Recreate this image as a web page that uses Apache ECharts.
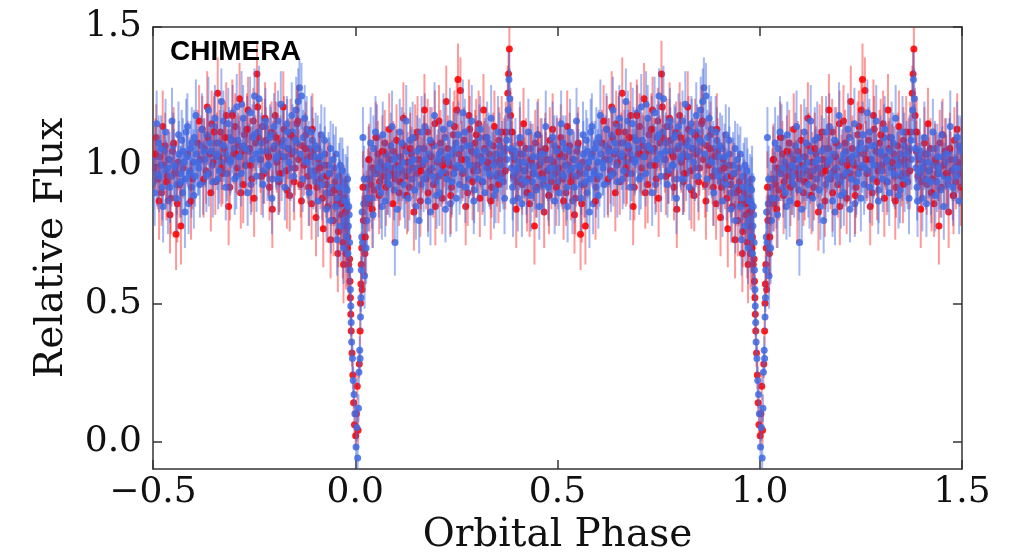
<!DOCTYPE html>
<html>
<head>
<meta charset="utf-8">
<script src="https://cdn.jsdelivr.net/npm/echarts@6/dist/echarts.min.js"></script>
<style>
html,body{margin:0;padding:0;background:#fff;}
#chart{width:1022px;height:560px;}
</style>
</head>
<body>
<div id="chart"></div>
<script>
// Tick labels
var xTicks = [-0.5, 0.0, 0.5, 1.0, 1.5];
var yTicks = [0.0, 0.5, 1.0, 1.5];
var xTitle = 'Orbital Phase';
var yTitle = 'Relative Flux';
var panelLabel = 'CHIMERA';

// One orbital cycle of measurements: [phase, relative flux, error]
var redPts = [
[0.020,0.80,0.10],[0.024,0.68,0.12],[0.028,0.88,0.10],[0.031,0.95,0.11],[0.035,0.86,0.10],[0.039,0.93,0.12],
[0.043,0.99,0.10],[0.047,0.91,0.11],[0.052,0.97,0.10],[0.056,1.04,0.12],[0.060,0.94,0.10],[0.064,1.00,0.11],
[0.069,0.96,0.10],[0.073,1.08,0.12],[0.077,0.99,0.10],[0.081,0.93,0.11],[0.086,1.02,0.10],[0.090,0.97,0.12],
[0.094,1.05,0.11],[0.099,0.95,0.10],[0.103,1.00,0.11],[0.108,0.90,0.12],[0.112,1.03,0.10],[0.116,0.98,0.11],
[0.121,1.07,0.12],[0.125,0.96,0.10],[0.130,1.01,0.11],[0.134,0.92,0.12],[0.139,1.04,0.10],[0.143,0.99,0.11],
[0.148,1.10,0.12],[0.152,0.97,0.10],[0.157,1.02,0.11],[0.161,0.87,0.13],[0.166,1.00,0.10],[0.170,1.06,0.12],
[0.175,0.95,0.11],[0.179,1.12,0.12],[0.184,0.98,0.10],[0.188,1.03,0.11],[0.193,0.93,0.12],[0.197,1.15,0.12],
[0.202,1.01,0.10],[0.206,0.96,0.11],[0.211,1.08,0.12],[0.215,0.88,0.13],[0.220,1.02,0.10],[0.224,0.97,0.11],
[0.229,1.06,0.12],[0.233,1.00,0.10],[0.238,0.92,0.11],[0.242,1.11,0.12],[0.247,0.99,0.10],[0.251,1.20,0.12],
[0.256,1.04,0.11],[0.260,1.27,0.12],[0.265,0.97,0.10],[0.269,1.09,0.12],[0.274,1.02,0.11],[0.278,0.90,0.12],
[0.283,1.13,0.12],[0.287,1.05,0.10],[0.292,0.98,0.11],[0.296,1.08,0.12],[0.301,1.00,0.10],[0.305,1.15,0.12],
[0.310,1.03,0.11],[0.314,0.94,0.12],[0.319,1.06,0.10],[0.323,1.10,0.11],[0.328,0.99,0.12],[0.332,1.04,0.10],
[0.337,0.92,0.11],[0.341,1.07,0.12],[0.346,1.01,0.10],[0.350,0.96,0.11],[0.355,1.09,0.12],[0.359,1.02,0.10],
[0.364,0.97,0.11],[0.368,1.05,0.12],[0.372,1.12,0.11],[0.377,1.26,0.10],[0.379,1.33,0.09],[0.381,1.42,0.10],
[0.384,1.18,0.10],[0.387,1.05,0.11],[0.391,0.96,0.12],[0.395,1.02,0.10],[0.400,0.94,0.11],[0.404,0.99,0.12],
[0.409,1.04,0.10],[0.413,0.93,0.11],[0.418,0.98,0.12],[0.422,1.06,0.11],[0.427,0.95,0.10],[0.431,0.86,0.12],
[0.436,1.01,0.11],[0.440,0.97,0.10],[0.445,1.08,0.12],[0.449,0.92,0.11],[0.454,1.00,0.10],[0.458,1.05,0.12],
[0.463,0.96,0.11],[0.467,0.83,0.13],[0.472,1.02,0.10],[0.476,0.98,0.11],[0.481,1.09,0.12],[0.485,0.94,0.10],
[0.490,1.01,0.11],[0.494,0.97,0.12],[0.499,1.06,0.11],[0.503,0.99,0.10],[0.508,1.10,0.12],[0.512,0.95,0.11],
[0.517,1.03,0.10],[0.521,0.90,0.12],[0.526,1.00,0.11],[0.530,1.07,0.12],[0.535,0.96,0.10],[0.539,1.02,0.11],
[0.544,0.88,0.13],[0.548,1.05,0.12],[0.553,0.97,0.11],[0.557,0.75,0.13],[0.562,1.01,0.10],[0.566,0.93,0.12],
[0.575,0.99,0.11],[0.586,1.04,0.12],[0.598,0.95,0.11],[0.610,1.08,0.12],[0.617,1.02,0.10],[0.622,1.13,0.12],
[0.627,1.06,0.11],[0.631,0.98,0.12],[0.636,1.10,0.10],[0.640,1.04,0.11],[0.645,1.15,0.12],[0.649,1.01,0.10],
[0.654,0.94,0.12],[0.658,1.08,0.11],[0.663,1.03,0.10],[0.667,1.12,0.12],[0.672,0.97,0.11],[0.676,1.06,0.10],
[0.681,1.18,0.12],[0.685,1.02,0.11],[0.690,0.92,0.12],[0.694,1.09,0.10],[0.699,1.04,0.11],[0.703,1.14,0.12],
[0.708,0.99,0.10],[0.712,1.07,0.11],[0.717,0.90,0.13],[0.721,1.05,0.12],[0.726,1.11,0.11],[0.730,1.00,0.10],
[0.735,1.20,0.12],[0.739,1.06,0.11],[0.744,0.95,0.12],[0.748,1.16,0.12],[0.753,1.08,0.10],[0.757,1.33,0.12],
[0.761,1.10,0.11],[0.766,1.02,0.12],[0.770,1.14,0.10],[0.775,0.97,0.11],[0.779,1.09,0.12],[0.784,1.04,0.10],
[0.788,0.92,0.12],[0.793,1.12,0.11],[0.797,1.06,0.10],[0.802,1.18,0.12],[0.806,1.01,0.11],[0.811,0.94,0.12],
[0.815,1.08,0.10],[0.820,1.03,0.11],[0.824,1.13,0.12],[0.829,0.98,0.10],[0.833,1.06,0.11],[0.838,0.89,0.13],
[0.842,1.04,0.12],[0.847,1.10,0.11],[0.851,0.99,0.10],[0.856,1.15,0.12],[0.860,1.02,0.11],[0.865,0.93,0.12],
[0.869,1.07,0.10],[0.874,1.00,0.11],[0.878,1.11,0.12],[0.883,0.96,0.10],[0.887,1.03,0.11],[0.892,0.86,0.13],
[0.896,1.05,0.12],[0.901,0.98,0.11],[0.905,0.92,0.12],[0.910,1.02,0.10],[0.914,0.95,0.11],[0.919,0.88,0.12],
[0.923,1.00,0.11],[0.928,0.93,0.12],[0.932,0.85,0.13],[0.937,0.97,0.11],[0.941,0.90,0.12],[0.946,0.80,0.13],
[0.950,0.94,0.11],[0.954,0.86,0.12],[0.958,0.76,0.13],[0.962,0.90,0.12],[0.966,0.82,0.12],[0.969,0.72,0.13],
[0.972,0.88,0.12],[0.975,0.78,0.13],[0.977,0.68,0.13],[0.980,0.84,0.12],[0.982,0.74,0.13],[0.984,0.64,0.13],
[0.986,0.66,0.06],[0.987,0.58,0.05],[0.988,0.52,0.05],[0.989,0.46,0.05],[0.990,0.40,0.05],[0.992,0.32,0.05],
[0.994,0.24,0.05],[0.996,0.14,0.05],[0.998,0.06,0.05],[0.001,0.02,0.05],[0.003,0.10,0.05],[0.005,0.20,0.05],
[0.007,0.04,0.05],[0.010,0.28,0.05],[0.012,0.40,0.05],[0.013,0.50,0.05],[0.014,0.57,0.05],[0.015,0.64,0.06],
[0.016,0.70,0.06],[0.017,0.55,0.06]
];

var redPts2 = [
[0.019,0.92,0.13],[0.025,0.74,0.14],[0.034,1.02,0.13],[0.042,0.84,0.14],[0.051,1.10,0.13],[0.059,0.89,0.14],
[0.067,1.05,0.13],[0.076,0.92,0.14],[0.084,1.13,0.13],[0.093,0.86,0.14],[0.102,1.09,0.13],[0.111,0.94,0.14],
[0.119,1.17,0.13],[0.128,0.89,0.14],[0.136,1.06,0.13],[0.145,0.83,0.14],[0.154,1.12,0.13],[0.162,0.98,0.14],
[0.171,1.20,0.13],[0.180,0.90,0.14],[0.189,1.08,0.13],[0.198,0.85,0.14],[0.207,1.16,0.13],[0.216,1.00,0.14],
[0.225,1.23,0.13],[0.236,0.89,0.14],[0.245,1.14,0.13],[0.254,1.31,0.13],[0.263,1.02,0.14],[0.273,0.85,0.14],
[0.281,1.18,0.13],[0.290,0.94,0.14],[0.299,1.11,0.13],[0.308,0.88,0.14],[0.317,1.20,0.13],[0.327,1.01,0.14],
[0.335,0.87,0.14],[0.344,1.14,0.13],[0.354,0.93,0.14],[0.362,1.12,0.13],[0.371,0.98,0.14],[0.388,1.12,0.13],
[0.398,0.84,0.14],[0.407,1.08,0.13],[0.416,1.15,0.13],[0.425,0.90,0.14],[0.434,1.02,0.13],[0.443,0.78,0.14],
[0.452,1.11,0.13],[0.461,0.97,0.14],[0.470,1.06,0.13],[0.479,0.89,0.14],[0.488,1.13,0.13],[0.497,0.92,0.14],
[0.506,1.04,0.13],[0.515,0.87,0.14],[0.524,1.14,0.13],[0.533,0.94,0.14],[0.542,0.82,0.14],[0.551,1.08,0.13],
[0.560,0.86,0.14],[0.569,0.78,0.14],[0.594,0.87,0.14],[0.614,1.16,0.13],[0.625,0.95,0.14],[0.634,1.21,0.13],
[0.643,0.90,0.14],[0.651,1.12,0.13],[0.660,1.26,0.13],[0.669,0.99,0.14],[0.678,1.10,0.13],[0.687,0.85,0.14],
[0.696,1.18,0.13],[0.705,1.04,0.14],[0.714,1.24,0.13],[0.723,0.93,0.14],[0.732,1.13,0.13],[0.741,1.00,0.14],
[0.750,0.88,0.14],[0.759,1.21,0.13],[0.768,0.96,0.14],[0.777,1.17,0.13],[0.786,1.03,0.14],[0.795,0.84,0.14],
[0.804,1.10,0.13],[0.813,0.97,0.14],[0.822,1.21,0.13],[0.831,0.91,0.14],[0.840,1.11,0.13],[0.849,0.94,0.14],
[0.858,1.16,0.13],[0.867,0.87,0.14],[0.876,1.06,0.13],[0.885,0.92,0.14],[0.894,1.13,0.13],[0.903,0.81,0.14],
[0.912,0.99,0.13],[0.921,0.77,0.14],[0.930,0.96,0.13],[0.939,0.73,0.14],[0.948,0.91,0.13],[0.957,0.68,0.14],
[0.964,0.86,0.13],[0.971,0.64,0.14],[0.976,0.83,0.13],[0.981,0.70,0.14]
];

var bluePts = [
[0.018,0.72,0.10],[0.019,1.10,0.11],[0.021,0.86,0.11],[0.023,0.60,0.12],[0.026,0.92,0.10],[0.029,0.80,0.11],
[0.033,1.02,0.12],[0.037,0.95,0.10],[0.041,0.88,0.11],[0.045,1.06,0.12],[0.049,0.97,0.10],[0.054,1.10,0.12],
[0.058,0.92,0.11],[0.062,1.01,0.10],[0.066,0.85,0.12],[0.071,0.98,0.11],[0.075,1.04,0.10],[0.079,0.94,0.12],
[0.083,0.96,0.11],[0.088,1.07,0.12],[0.092,0.99,0.10],[0.096,0.91,0.11],[0.098,0.72,0.12],[0.101,1.03,0.10],
[0.105,0.97,0.11],[0.110,1.12,0.12],[0.114,0.94,0.10],[0.118,1.01,0.11],[0.123,0.89,0.12],[0.127,1.05,0.10],
[0.132,0.98,0.11],[0.136,1.09,0.12],[0.141,0.95,0.10],[0.145,1.02,0.11],[0.150,0.85,0.12],[0.154,0.99,0.10],
[0.159,1.06,0.11],[0.163,0.93,0.12],[0.168,1.01,0.10],[0.172,1.14,0.12],[0.177,0.97,0.11],[0.181,1.04,0.10],
[0.186,0.83,0.12],[0.190,0.99,0.11],[0.195,1.07,0.12],[0.199,0.94,0.10],[0.204,1.02,0.11],[0.208,0.90,0.12],
[0.213,1.05,0.10],[0.217,0.98,0.11],[0.222,1.10,0.12],[0.226,0.95,0.10],[0.231,1.01,0.11],[0.235,0.86,0.12],
[0.240,1.04,0.10],[0.244,0.97,0.11],[0.249,1.08,0.12],[0.253,1.00,0.10],[0.258,0.93,0.11],[0.262,1.06,0.12],
[0.267,0.98,0.10],[0.271,1.12,0.12],[0.276,1.02,0.11],[0.280,0.95,0.10],[0.285,1.07,0.12],[0.289,1.00,0.11],
[0.294,0.91,0.12],[0.298,1.04,0.10],[0.303,0.98,0.11],[0.307,1.10,0.12],[0.312,1.01,0.10],[0.316,0.94,0.11],
[0.321,1.05,0.12],[0.325,0.99,0.10],[0.330,1.08,0.11],[0.334,0.96,0.12],[0.339,1.02,0.10],[0.343,0.89,0.12],
[0.348,1.04,0.11],[0.352,0.97,0.10],[0.357,1.07,0.12],[0.361,1.00,0.11],[0.366,0.94,0.10],[0.370,1.06,0.12],
[0.375,1.02,0.11],[0.380,1.31,0.10],[0.383,1.12,0.10],[0.386,0.99,0.11],[0.389,0.92,0.12],[0.393,1.03,0.10],
[0.397,0.97,0.11],[0.402,0.88,0.12],[0.406,1.01,0.10],[0.411,0.95,0.11],[0.415,1.04,0.12],[0.420,0.98,0.10],
[0.424,0.90,0.11],[0.429,1.00,0.12],[0.433,1.06,0.10],[0.438,0.94,0.11],[0.442,0.99,0.12],[0.447,0.91,0.10],
[0.451,1.03,0.11],[0.456,0.96,0.12],[0.460,1.01,0.10],[0.465,0.93,0.11],[0.469,1.05,0.12],[0.474,0.98,0.10],
[0.478,0.89,0.11],[0.483,1.02,0.12],[0.487,0.96,0.10],[0.492,1.07,0.11],[0.496,0.99,0.12],[0.501,0.94,0.10],
[0.505,1.03,0.11],[0.510,0.97,0.12],[0.514,1.08,0.10],[0.519,1.00,0.11],[0.523,0.92,0.12],[0.528,1.05,0.10],
[0.532,0.98,0.11],[0.537,0.87,0.12],[0.541,1.02,0.10],[0.546,0.96,0.11],[0.550,1.07,0.12],[0.555,0.99,0.10],
[0.559,0.93,0.11],[0.564,1.04,0.12],[0.568,0.97,0.10],[0.571,1.09,0.11],[0.573,0.90,0.12],[0.577,1.01,0.10],
[0.580,0.95,0.11],[0.582,1.12,0.12],[0.584,1.03,0.10],[0.588,0.86,0.11],[0.591,0.98,0.12],[0.593,1.06,0.10],
[0.595,0.92,0.11],[0.600,1.01,0.12],[0.602,1.10,0.10],[0.604,0.96,0.11],[0.607,1.04,0.12],[0.613,0.99,0.10],
[0.619,1.07,0.11],[0.624,0.94,0.12],[0.629,1.02,0.10],[0.633,1.11,0.11],[0.638,0.97,0.12],[0.643,1.05,0.10],
[0.647,1.00,0.11],[0.652,1.14,0.12],[0.656,1.03,0.10],[0.661,0.95,0.11],[0.665,1.08,0.12],[0.670,1.01,0.10],
[0.674,1.16,0.11],[0.679,1.04,0.12],[0.683,0.97,0.10],[0.688,1.10,0.11],[0.692,1.02,0.12],[0.697,1.19,0.10],
[0.701,1.06,0.11],[0.706,0.96,0.12],[0.710,1.09,0.10],[0.715,1.03,0.11],[0.719,1.22,0.12],[0.724,1.07,0.10],
[0.728,1.00,0.11],[0.733,1.13,0.12],[0.737,1.05,0.10],[0.742,0.93,0.11],[0.746,1.10,0.12],[0.751,1.25,0.10],
[0.755,1.04,0.11],[0.759,1.12,0.12],[0.764,1.02,0.10],[0.768,1.08,0.11],[0.773,0.98,0.12],[0.777,1.14,0.10],
[0.782,1.05,0.11],[0.786,1.00,0.12],[0.791,1.11,0.10],[0.795,0.95,0.11],[0.800,1.07,0.12],[0.804,1.02,0.10],
[0.809,1.16,0.11],[0.813,1.04,0.12],[0.818,0.97,0.10],[0.822,1.09,0.11],[0.827,1.03,0.12],[0.831,1.15,0.10],
[0.836,1.06,0.11],[0.840,0.99,0.12],[0.845,1.12,0.10],[0.849,1.05,0.11],[0.854,1.20,0.12],[0.858,1.08,0.10],
[0.862,1.28,0.11],[0.867,1.25,0.12],[0.871,1.10,0.10],[0.876,1.02,0.11],[0.880,1.13,0.12],[0.885,1.06,0.10],
[0.889,0.98,0.11],[0.894,1.09,0.12],[0.898,1.03,0.10],[0.903,0.94,0.11],[0.907,1.06,0.12],[0.912,1.00,0.10],
[0.916,1.11,0.11],[0.921,0.96,0.12],[0.925,1.04,0.10],[0.930,0.90,0.11],[0.934,1.00,0.12],[0.939,1.06,0.10],
[0.943,0.92,0.11],[0.948,0.99,0.12],[0.952,1.04,0.10],[0.956,0.88,0.11],[0.960,0.96,0.12],[0.963,1.00,0.10],
[0.967,0.86,0.11],[0.970,0.94,0.12],[0.973,0.80,0.11],[0.976,0.92,0.12],[0.979,0.86,0.11],[0.981,0.95,0.12],
[0.983,0.78,0.11],[0.985,0.82,0.06],[0.986,0.72,0.06],[0.987,0.62,0.05],[0.988,0.55,0.05],[0.989,0.49,0.05],
[0.990,0.43,0.05],[0.991,0.36,0.05],[0.993,0.30,0.05],[0.995,0.22,0.05],[0.997,0.17,0.05],[0.999,0.10,0.05],
[0.002,-0.02,0.05],[0.004,0.05,0.05],[0.006,-0.06,0.05],[0.008,0.12,0.05],[0.009,0.25,0.05],[0.011,0.33,0.05],
[0.012,0.30,0.05],[0.013,0.45,0.05],[0.014,0.52,0.05],[0.015,0.62,0.05],[0.016,0.74,0.06],[0.017,0.83,0.06]
];

var bluePts2 = [
[0.022,0.95,0.12],[0.027,0.70,0.13],[0.032,0.88,0.12],[0.038,1.08,0.13],[0.044,0.82,0.12],[0.050,1.12,0.13],
[0.057,0.99,0.12],[0.063,0.90,0.13],[0.068,1.11,0.12],[0.074,0.87,0.13],[0.080,1.00,0.12],[0.085,0.93,0.12],
[0.091,1.14,0.13],[0.097,1.02,0.12],[0.104,0.84,0.13],[0.109,0.99,0.12],[0.115,1.08,0.13],[0.120,0.93,0.12],
[0.126,1.16,0.13],[0.131,0.88,0.12],[0.137,1.01,0.12],[0.142,1.10,0.13],[0.147,0.91,0.12],[0.153,1.05,0.13],
[0.158,0.80,0.12],[0.164,1.12,0.13],[0.169,0.95,0.12],[0.174,1.02,0.12],[0.180,0.87,0.13],[0.185,1.09,0.12],
[0.191,0.96,0.13],[0.196,1.18,0.12],[0.201,0.89,0.12],[0.207,1.04,0.13],[0.212,0.97,0.12],[0.218,1.13,0.13],
[0.223,0.84,0.12],[0.228,1.03,0.12],[0.234,1.15,0.13],[0.239,0.94,0.12],[0.245,1.06,0.13],[0.250,0.88,0.12],
[0.255,1.11,0.12],[0.261,0.99,0.13],[0.266,1.19,0.12],[0.272,0.92,0.13],[0.277,1.07,0.12],[0.282,1.00,0.12],
[0.288,1.16,0.13],[0.293,0.87,0.12],[0.299,1.05,0.13],[0.304,0.95,0.12],[0.309,1.13,0.12],[0.315,1.02,0.13],
[0.320,0.90,0.12],[0.326,1.10,0.13],[0.331,0.97,0.12],[0.336,1.17,0.12],[0.342,1.00,0.13],[0.347,0.91,0.12],
[0.353,1.12,0.13],[0.358,0.95,0.12],[0.363,1.04,0.12],[0.369,0.88,0.13],[0.374,1.09,0.12],[0.378,1.20,0.12],
[0.382,1.24,0.11],[0.385,1.06,0.12],[0.390,0.87,0.13],[0.396,1.05,0.12],[0.401,0.99,0.12],[0.407,1.10,0.13],
[0.412,0.86,0.12],[0.417,1.01,0.13],[0.423,0.94,0.12],[0.428,1.12,0.12],[0.434,0.89,0.13],[0.439,1.03,0.12],
[0.444,0.97,0.13],[0.450,1.11,0.12],[0.455,0.85,0.12],[0.461,1.04,0.13],[0.466,0.95,0.12],[0.471,1.14,0.13],
[0.477,0.92,0.12],[0.482,0.99,0.12],[0.488,1.10,0.13],[0.493,0.87,0.12],[0.498,1.05,0.13],[0.504,0.90,0.12],
[0.509,1.15,0.12],[0.515,0.96,0.13],[0.520,1.06,0.12],[0.525,0.85,0.13],[0.531,1.12,0.12],[0.536,0.99,0.12],
[0.542,0.92,0.13],[0.547,1.16,0.12],[0.552,1.00,0.13],[0.558,0.88,0.12],[0.563,1.11,0.12],[0.569,0.94,0.13],
[0.574,1.05,0.12],[0.579,0.83,0.13],[0.585,1.14,0.12],[0.590,0.97,0.12],[0.596,1.08,0.13],[0.601,0.89,0.12],
[0.606,1.18,0.13],[0.611,1.01,0.12],[0.616,0.93,0.12],[0.621,1.13,0.13],[0.626,1.05,0.12],[0.632,0.96,0.13],
[0.637,1.20,0.12],[0.642,1.08,0.12],[0.648,0.94,0.13],[0.653,1.17,0.12],[0.659,1.04,0.13],[0.664,0.98,0.12],
[0.669,1.23,0.12],[0.675,1.07,0.13],[0.680,0.92,0.12],[0.686,1.15,0.13],[0.691,1.01,0.12],[0.696,1.09,0.12],
[0.702,0.95,0.13],[0.707,1.21,0.12],[0.713,1.03,0.13],[0.718,0.97,0.12],[0.723,1.17,0.12],[0.729,1.06,0.13],
[0.734,0.90,0.12],[0.740,1.19,0.13],[0.745,1.02,0.12],[0.750,1.11,0.12],[0.756,0.96,0.13],[0.762,1.24,0.12],
[0.767,1.05,0.13],[0.772,0.93,0.12],[0.778,1.16,0.12],[0.783,1.00,0.13],[0.789,1.10,0.12],[0.794,0.88,0.13],
[0.799,1.14,0.12],[0.805,1.03,0.12],[0.810,0.95,0.13],[0.816,1.22,0.12],[0.821,1.07,0.13],[0.826,0.92,0.12],
[0.832,1.12,0.12],[0.837,1.01,0.13],[0.843,1.18,0.12],[0.848,0.96,0.13],[0.853,1.09,0.12],[0.859,1.23,0.12],
[0.864,1.04,0.13],[0.870,0.95,0.12],[0.875,1.17,0.12],[0.881,1.01,0.13],[0.886,0.90,0.12],[0.891,1.12,0.13],
[0.897,0.96,0.12],[0.902,1.07,0.12],[0.908,0.87,0.13],[0.913,1.03,0.12],[0.918,0.93,0.13],[0.924,1.09,0.12],
[0.929,0.84,0.12],[0.935,0.97,0.13],[0.940,0.80,0.12],[0.945,1.02,0.13],[0.951,0.85,0.12],[0.955,0.73,0.13],
[0.959,0.92,0.12],[0.964,0.78,0.13],[0.968,0.98,0.12],[0.971,0.70,0.13],[0.974,0.87,0.12],[0.978,0.74,0.13],
[0.980,0.91,0.12],[0.982,0.68,0.13],[0.984,0.85,0.12]
];

// The same cycle is shown twice (phase folded onto -0.5 .. 1.5)
function foldCycle(pts) {
  var out = [];
  pts.forEach(function (d) {
    out.push([d[0], d[1], d[2]]);
    if (d[0] >= 0.5) out.push([d[0] - 1, d[1], d[2]]);
    if (d[0] <= 0.5) out.push([d[0] + 1, d[1], d[2]]);
  });
  return out;
}

function errRenderer(barColor, dotColor, r) {
  return function (params, api) {
    var x = api.value(0), y = api.value(1), e = api.value(2);
    var c = api.coord([x, y]);
    var t = api.coord([x, y + e]);
    var b = api.coord([x, y - e]);
    return {
      type: 'group',
      children: [
        { type: 'line', shape: { x1: t[0], y1: t[1], x2: b[0], y2: b[1] },
          style: { stroke: barColor, lineWidth: 2 } },
        { type: 'circle', shape: { cx: c[0], cy: c[1], r: r },
          style: { fill: dotColor } }
      ]
    };
  };
}

function fmt(v) {
  var s = Math.abs(v).toFixed(1);
  return v < 0 ? '\u2212' + s : s;
}

var chart = echarts.init(document.getElementById('chart'), null, { renderer: 'canvas' });
var serif = "'DejaVu Serif', serif";
var axisLineStyle = { color: '#333', width: 1.5 };

var BLUE_BAR = 'rgba(65,105,225,0.48)', BLUE_DOT = 'rgba(65,105,225,0.85)';
var RED_BAR = 'rgba(255,0,0,0.40)', RED_DOT = 'rgba(255,0,0,0.88)';

chart.setOption({
  animation: false,
  backgroundColor: '#fff',
  grid: { left: 153, right: 60, top: 27, bottom: 91, containLabel: false },
  xAxis: [{
    type: 'value', min: -0.5, max: 1.5, position: 'bottom',
    name: xTitle, nameLocation: 'middle', nameGap: 46,
    nameTextStyle: { fontFamily: serif, fontSize: 39, color: '#111' },
    axisLine: { show: true, onZero: false, lineStyle: axisLineStyle },
    axisTick: { show: true, inside: true, length: 9, customValues: xTicks, lineStyle: axisLineStyle },
    axisLabel: { show: true, customValues: xTicks, formatter: fmt, margin: 6,
      fontFamily: serif, fontSize: 36, color: '#111' },
    splitLine: { show: false }
  }, {
    type: 'value', min: -0.5, max: 1.5, position: 'top',
    axisLine: { show: true, onZero: false, lineStyle: axisLineStyle },
    axisTick: { show: true, inside: true, length: 9, customValues: xTicks, lineStyle: axisLineStyle },
    axisLabel: { show: false },
    splitLine: { show: false }
  }],
  yAxis: [{
    type: 'value', min: -0.1, max: 1.5, position: 'left',
    name: yTitle, nameLocation: 'middle', nameGap: 82,
    nameTextStyle: { fontFamily: serif, fontSize: 39, color: '#111' },
    axisLine: { show: true, onZero: false, lineStyle: axisLineStyle },
    axisTick: { show: true, inside: true, length: 9, customValues: yTicks, lineStyle: axisLineStyle },
    axisLabel: { show: true, customValues: yTicks, formatter: fmt, margin: 11,
      fontFamily: serif, fontSize: 36, color: '#111' },
    splitLine: { show: false }
  }, {
    type: 'value', min: -0.1, max: 1.5, position: 'right',
    axisLine: { show: true, onZero: false, lineStyle: axisLineStyle },
    axisTick: { show: true, inside: true, length: 9, customValues: yTicks, lineStyle: axisLineStyle },
    axisLabel: { show: false },
    splitLine: { show: false }
  }],
  graphic: [{
    type: 'text', left: 170, top: 38, z: 100,
    style: { text: panelLabel, font: "bold 28px 'Liberation Sans', Arial, sans-serif", fill: '#000' }
  }],
  series: [{
    type: 'custom', name: 'red', clip: true,
    renderItem: errRenderer(RED_BAR, RED_DOT, 3.5), data: foldCycle(redPts)
  }, {
    type: 'custom', name: 'blue', clip: true,
    renderItem: errRenderer(BLUE_BAR, BLUE_DOT, 3.5), data: foldCycle(bluePts)
  }, {
    type: 'custom', name: 'red2', clip: true,
    renderItem: errRenderer(RED_BAR, RED_DOT, 3.5), data: foldCycle(redPts2)
  }, {
    type: 'custom', name: 'blue2', clip: true,
    renderItem: errRenderer(BLUE_BAR, BLUE_DOT, 3.5), data: foldCycle(bluePts2)
  }]
});
</script>
</body>
</html>
